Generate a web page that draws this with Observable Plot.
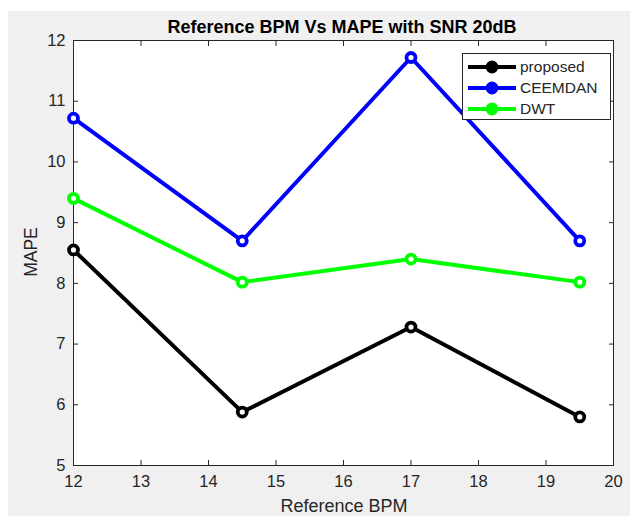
<!DOCTYPE html>
<html>
<head>
<meta charset="utf-8">
<script src="https://cdn.jsdelivr.net/npm/d3@7"></script>
<script src="https://cdn.jsdelivr.net/npm/@observablehq/plot@0.6"></script>
<style>
  body { margin: 0; background: #ffffff; }
  #fig { position: relative; width: 630px; height: 516px; overflow: hidden;
         font-family: Arial, "Liberation Sans", Helvetica, sans-serif; color: #262626; }
  #bg { position: absolute; left: 8px; top: 11px; right: 0; bottom: 0; background: #f0f0f0; }
  #chart { position: absolute; left: 0; top: 0; }
  #chart svg g, #chart svg text { font-size: 16.5px !important; }
  .txt { position: absolute; white-space: nowrap; line-height: 20px; }
  #title { left: 342px; top: 17px; transform: translateX(-50%); font-weight: bold; font-size: 18px; color: #000; }
  #xlabel { left: 344px; top: 496px; transform: translateX(-50%); font-size: 18px; }
  #ylabel { left: 31px; top: 252px; transform: translate(-50%, -50%) rotate(-90deg); font-size: 17.5px; }
  #legend { position: absolute; left: 462px; top: 53px; width: 147px; height: 65px;
            background: #fff; border: 1px solid #262626; }
  .row { position: absolute; left: 0; height: 20px; width: 147px; }
  .row svg { position: absolute; left: 4px; top: 0; }
  .row span { position: absolute; left: 57px; top: 1px; font-size: 15.5px; color: #262626; }
</style>
</head>
<body>
<div id="fig">
  <div id="bg"></div>
  <div id="chart"></div>
  <div id="title" class="txt">Reference BPM Vs MAPE with SNR 20dB</div>
  <div id="xlabel" class="txt">Reference BPM</div>
  <div id="ylabel" class="txt">MAPE</div>
  <div id="legend"></div>
</div>
<script>
// Reference heart rate (BPM) on the x axis
const bpm = [12, 14.5, 17, 19.5];

// MAPE of each method at those reference values
const proposed = [8.55, 5.88, 7.28, 5.8];
const ceemdan = [10.72, 8.7, 11.72, 8.7];
const dwt = [9.4, 8.02, 8.4, 8.02];

const seriesNames = ["proposed", "CEEMDAN", "DWT"];
const seriesColors = ["#000000", "#0000ff", "#00ff00"];

const xTicks = [12, 13, 14, 15, 16, 17, 18, 19, 20];
const yTicks = [5, 6, 7, 8, 9, 10, 11, 12];

const valuesByName = { proposed, CEEMDAN: ceemdan, DWT: dwt };
const rows = seriesNames.flatMap(name =>
  bpm.map((x, i) => ({ series: name, bpm: x, mape: valuesByName[name][i] }))
);

const axisStyle = { tickSize: -5, stroke: "#262626", color: "#262626", label: null };
const plain = d => String(d);
const blank = () => "";

const chart = Plot.plot({
  width: 630,
  height: 516,
  marginLeft: 73,
  marginRight: 17,
  marginTop: 40,
  marginBottom: 51,
  style: { background: "transparent", fontFamily: "Arial, 'Liberation Sans', Helvetica, sans-serif", fontSize: "16.5px", color: "#262626" },
  x: { domain: [12, 20] },
  y: { domain: [5, 12] },
  color: { domain: seriesNames, range: seriesColors },
  marks: [
    Plot.frame({ fill: "white", stroke: "#262626", strokeWidth: 1 }),
    Plot.axisX(xTicks, { ...axisStyle, anchor: "bottom", tickPadding: 15, tickFormat: plain }),
    Plot.axisX(xTicks, { ...axisStyle, anchor: "top", tickFormat: blank }),
    Plot.axisY(yTicks, { ...axisStyle, anchor: "left", tickPadding: 13, tickFormat: plain }),
    Plot.axisY(yTicks, { ...axisStyle, anchor: "right", tickFormat: blank }),
    Plot.line(rows, { x: "bpm", y: "mape", z: "series", stroke: "series", strokeWidth: 4, strokeLinejoin: "miter" }),
    Plot.dot(rows, { x: "bpm", y: "mape", stroke: "series", fill: "white", r: 4.5, strokeWidth: 3.8 })
  ]
});
document.getElementById("chart").appendChild(chart);

// Legend: line + marker sample followed by the series name
const legend = document.getElementById("legend");
seriesNames.forEach((name, i) => {
  const row = document.createElement("div");
  row.className = "row";
  row.style.top = (3 + i * 21) + "px";
  const color = seriesColors[i];
  row.innerHTML =
    `<svg width="52" height="20"><line x1="1" x2="49" y1="10" y2="10" stroke="${color}" stroke-width="4"/>` +
    `<circle cx="25" cy="10" r="4.5" fill="${color}" stroke="${color}" stroke-width="3.8"/></svg>` +
    `<span>${name}</span>`;
  legend.appendChild(row);
});
</script>
</body>
</html>
